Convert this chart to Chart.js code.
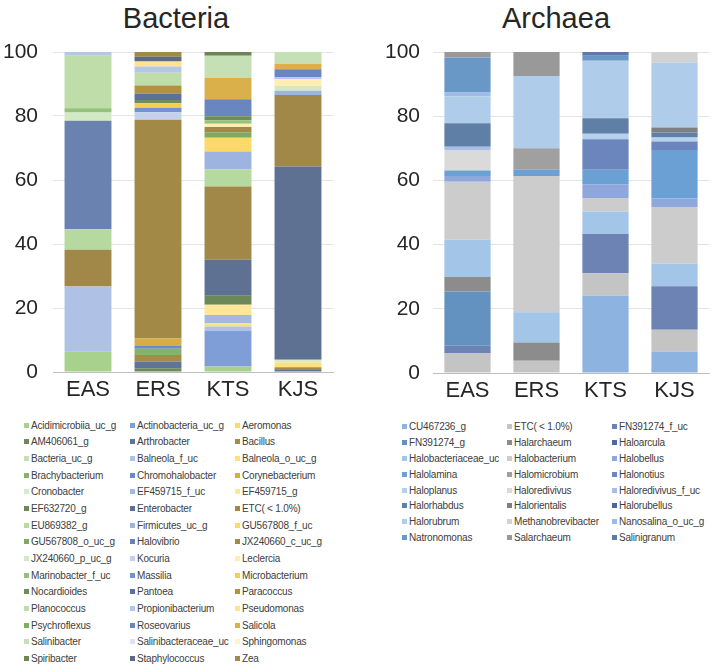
<!DOCTYPE html>
<html>
<head>
<meta charset="utf-8">
<script src="https://cdn.jsdelivr.net/npm/chart.js"></script>
<style>
  body { margin: 0; background: #fff; width: 714px; height: 669px; position: relative; overflow: hidden;
         font-family: "Liberation Sans", Arial, sans-serif; color: #262626; }
  canvas { position: absolute; top: 0; }
  .title { position: absolute; top: 4px; font-size: 29px; line-height: 29px; transform: translateX(-50%); white-space: nowrap; }
  .legend div { position: absolute; white-space: nowrap; font-size: 10px; line-height: 12px; color: #404040; letter-spacing: -0.2px; }
  .legend i { position: absolute; left: -7px; top: 3px; width: 5px; height: 5px; }
</style>
</head>
<body>
<div class="title" style="left:176px">Bacteria</div>
<div class="title" style="left:556px">Archaea</div>
<canvas id="bac" width="357" height="405" style="left:0"></canvas>
<canvas id="arc" width="357" height="406" style="left:357px"></canvas>
<div class="legend" id="bacLegend"></div>
<div class="legend" id="arcLegend"></div>
<script>
var categories = ['EAS', 'ERS', 'KTS', 'KJS'];
var yTicks = [0, 20, 40, 60, 80, 100];

var bacteriaTaxa = [
  'Acidimicrobiia_uc_g', 'Actinobacteria_uc_g', 'Aeromonas',
  'AM406061_g', 'Arthrobacter', 'Bacillus',
  'Bacteria_uc_g', 'Balneola_f_uc', 'Balneola_o_uc_g',
  'Brachybacterium', 'Chromohalobacter', 'Corynebacterium',
  'Cronobacter', 'EF459715_f_uc', 'EF459715_g',
  'EF632720_g', 'Enterobacter', 'ETC( < 1.0%)',
  'EU869382_g', 'Firmicutes_uc_g', 'GU567808_f_uc',
  'GU567808_o_uc_g', 'Halovibrio', 'JX240660_c_uc_g',
  'JX240660_p_uc_g', 'Kocuria', 'Leclercia',
  'Marinobacter_f_uc', 'Massilia', 'Microbacterium',
  'Nocardioides', 'Pantoea', 'Paracoccus',
  'Planococcus', 'Propionibacterium', 'Pseudomonas',
  'Psychroflexus', 'Roseovarius', 'Salicola',
  'Salinibacter', 'Salinibacteraceae_uc', 'Sphingomonas',
  'Spiribacter', 'Staphylococcus', 'Zea'
];
var bacteriaColors = [
  '#a9d18e', '#7f9ed8', '#ffd966',
  '#6e8a5c', '#5f7497', '#a48b47',
  '#c5e0b4', '#afc2e6', '#ffe07a',
  '#86b36a', '#6a8ac8', '#d6ae45',
  '#d8eacb', '#a3b8e2', '#ffe699',
  '#6d8858', '#5e7193', '#a18848',
  '#b6d99f', '#9db3e0', '#ffd966',
  '#7fa862', '#6a82b0', '#a38946',
  '#d3e8c5', '#c3d1ee', '#ffedb3',
  '#93c27a', '#7393d0', '#f5cf55',
  '#6f8d5b', '#5d7196', '#b0923f',
  '#bfdda9', '#b4c7e7', '#ffe48f',
  '#7eaf5e', '#6a86c0', '#d9b04a',
  '#c5e0b4', '#dae3f3', '#fff2cc',
  '#6b8556', '#5c6a85', '#a08a48'
];
// relative abundance (%) per sample, in legend order
var bacEAS = [6.5, 0, 0,  0, 0, 0,  0, 20.2, 0,  0, 0, 0,  0, 0, 0,  0, 0, 11.5,  6.4, 0, 0,  0, 33.9, 0,
              2.6, 0, 0,  1.3, 0, 0,  0, 0, 0,  16.4, 1.2, 0,  0, 0, 0,  0, 0, 0,  0, 0, 0];
var bacERS = [0, 0, 0,  1.2, 2.1, 2.0,  0, 0, 0,  2.0, 1.0, 2.2,  0, 0, 0,  0, 0, 0,  0, 0, 0,  0, 0, 68.3,
              0, 2.4, 0,  0, 1.4, 1.4,  1.0, 2.0, 2.5,  4.0, 2.0, 1.5,  0, 0, 0,  0, 0, 0,  0, 1.5, 1.5];
var bacKTS = [1.7, 11.1, 0,  0, 0, 0,  0, 1.4, 1.0,  0, 0, 0,  0, 2.6, 3.2,  2.8, 11.3, 22.9,  5.3, 5.6, 4.3,  1.7, 0, 1.7,
              0, 0, 1.0,  1.1, 0, 0,  1.2, 0, 0,  0, 0, 0,  0, 5.3, 6.7,  6.9, 0, 0,  1.2, 0, 0];
var bacKJS = [0, 0, 0,  0, 0.6, 0.9,  0, 0, 1.5,  0, 0, 0,  0.8, 0, 0,  0, 60.4, 22.4,  0, 1.3, 0,  0, 0, 0,
              1.5, 0, 2.1,  0, 0, 0,  0, 0, 0,  0, 0.6, 0,  0, 2.5, 1.7,  3.7, 0, 0,  0, 0, 0];

var archaeaTaxa = [
  'CU467236_g', 'ETC( < 1.0%)', 'FN391274_f_uc',
  'FN391274_g', 'Halarchaeum', 'Haloarcula',
  'Halobacteriaceae_uc', 'Halobacterium', 'Halobellus',
  'Halolamina', 'Halomicrobium', 'Halonotius',
  'Haloplanus', 'Haloredivivus', 'Haloredivivus_f_uc',
  'Halorhabdus', 'Halorientalis', 'Halorubellus',
  'Halorubrum', 'Methanobrevibacter', 'Nanosalina_o_uc_g',
  'Natronomonas', 'Salarchaeum', 'Salinigranum'
];
var archaeaColors = [
  '#8db4e0', '#c4c4c4', '#6c83b4',
  '#6391c0', '#8c8c8c', '#4e6a9e',
  '#a3c5e7', '#cccccc', '#8fa8dc',
  '#6aa0d3', '#a0a0a0', '#6b85bd',
  '#b4d0ec', '#dadada', '#a9bee6',
  '#5f7fa6', '#7f7f7f', '#4f6798',
  '#afcdeb', '#d2d2d2', '#9dbbe6',
  '#6a98c6', '#999999', '#5f78a8'
];
var arcEAS = [0, 6.2, 2.3,  16.9, 4.5, 0,  11.6, 18.1, 1.8,  1.7, 0, 0,  0, 6.4, 1.0,  7.3, 0, 0,  8.3, 0, 1.3,  10.9, 1.7, 0];
var arcERS = [0, 3.8, 0,  0, 5.7, 0,  9.4, 42.5, 0,  1.9, 6.7, 0,  0, 0, 0,  0, 0, 0,  22.5, 0, 0,  0, 7.5, 0];
var arcKTS = [24.1, 7.0, 12.2,  0, 0, 0,  7.0, 4.2, 4.3,  4.5, 0, 9.5,  1.7, 0, 0,  4.9, 0, 0,  17.9, 0, 0,  1.5, 0, 1.2];
var arcKJS = [6.7, 6.8, 13.5,  0, 0, 0,  7.0, 17.7, 2.7,  15.1, 0, 2.6,  1.3, 0, 0,  1.5, 1.6, 0,  20.2, 3.3, 0,  0, 0, 0];

var FONT = '"Liberation Sans", Arial, sans-serif';

function buildDatasets(taxa, colors, samples) {
  return taxa.map(function (name, i) {
    return {
      label: name,
      data: samples.map(function (s) { return s[i]; }),
      backgroundColor: colors[i],
      borderWidth: 0
    };
  });
}

function makeChart(id, datasets, yWidth, padRight, labelPad) {
  return new Chart(document.getElementById(id), {
    type: 'bar',
    data: { labels: categories, datasets: datasets },
    options: {
      responsive: false,
      animation: false,
      devicePixelRatio: 1,
      layout: { padding: { top: 52, right: padRight, bottom: 0, left: 0 } },
      plugins: { legend: { display: false }, tooltip: { enabled: false } },
      datasets: { bar: { categoryPercentage: 1, barPercentage: 0.67 } },
      scales: {
        x: {
          stacked: true,
          grid: { display: false, drawTicks: false },
          border: { color: '#bfbfbf', width: 1 },
          ticks: { color: '#262626', padding: 5, font: { size: 22, family: FONT } },
          afterFit: function (axis) { axis.height = 33; }
        },
        y: {
          stacked: true,
          min: 0,
          max: 100,
          grid: { color: '#e3e3e3', drawTicks: false },
          border: { display: false },
          ticks: { color: '#262626', padding: labelPad, font: { size: 21, family: FONT } },
          afterBuildTicks: function (axis) { axis.ticks = yTicks.map(function (v) { return { value: v }; }); },
          afterFit: function (axis) { axis.width = yWidth; }
        }
      }
    }
  });
}

function buildLegend(id, taxa, colors, colX, y0, step) {
  var box = document.getElementById(id);
  taxa.forEach(function (name, i) {
    var item = document.createElement('div');
    item.style.left = colX[i % 3] + 'px';
    item.style.top = (y0 + Math.floor(i / 3) * step - 6) + 'px';
    var mark = document.createElement('i');
    mark.style.background = colors[i];
    item.appendChild(mark);
    item.appendChild(document.createTextNode(name));
    box.appendChild(item);
  });
}

makeChart('bac', buildDatasets(bacteriaTaxa, bacteriaColors, [bacEAS, bacERS, bacKTS, bacKJS]), 53, 24, 15);
makeChart('arc', buildDatasets(archaeaTaxa, archaeaColors, [arcEAS, arcERS, arcKTS, arcKJS]), 76, 5, 13);
buildLegend('bacLegend', bacteriaTaxa, bacteriaColors, [31, 137, 242], 425.7, 16.66);
buildLegend('arcLegend', archaeaTaxa, archaeaColors, [409, 514, 619], 426.7, 15.95);
</script>
</body>
</html>
